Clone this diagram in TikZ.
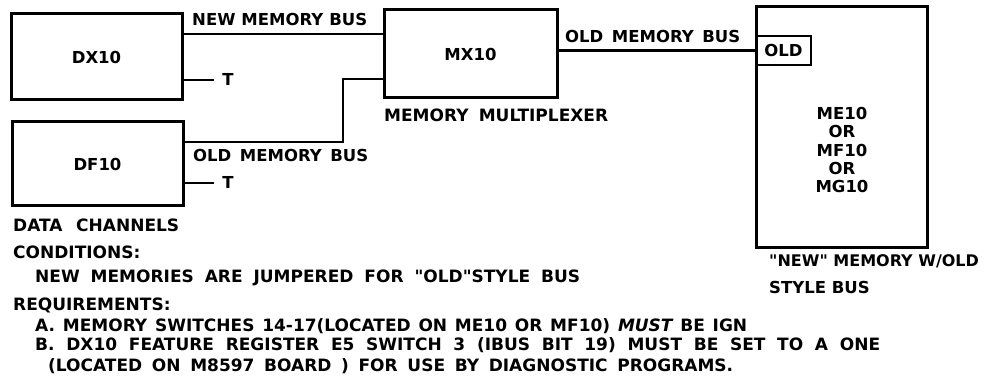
\documentclass[tikz,border=0pt]{standalone}
\usepackage{fontspec}
\setmainfont{DejaVu Sans}
\begin{document}
\begin{tikzpicture}[x=1pt,y=-1pt,
  lbl/.style={inner sep=0pt,font=\fontsize{16.5}{18}\selectfont\bfseries,text height=12pt,text depth=0pt},
  txt/.style={lbl,anchor=west},
  note/.style={txt,font=\fontsize{17}{18}\selectfont\bfseries},
  unit/.style={draw,line width=3pt,inner sep=0pt,font=\fontsize{16.5}{18}\selectfont\bfseries},
  bus/.style={line width=2.1pt}]
\useasboundingbox (0,0) rectangle (988,387);
% boxes
\node[unit,minimum width=171pt,minimum height=86pt] (dx) at (96.5,57) {DX10};
\node[unit,minimum width=171pt,minimum height=84pt] (df) at (97.5,164) {DF10};
\node[unit,minimum width=173pt,minimum height=88pt] (mx) at (470.5,54) {MX10};
\node[unit,minimum width=171pt,minimum height=241pt] (mem) at (841.5,127.5) {};
\node[draw,line width=2.2pt,inner sep=0pt,minimum width=55pt,minimum height=29pt,
  font=\fontsize{16.5}{18}\selectfont\bfseries] (old) at (783.5,50.5) {OLD};
\node[lbl,align=center,font=\fontsize{16.5}{18.2}\selectfont\bfseries,text height=,text depth=] (memtxt) at (842,150)
  {ME10\\OR\\MF10\\OR\\MG10};
% T terminators
\node[lbl] (t1) at (228,80) {T};
\node[lbl] (t2) at (228,183) {T};
\coordinate (nb) at (0,34);
\coordinate (ob1) at (0,142);
\coordinate (jog) at (343,79);
\draw[bus] (dx.east |- nb) -- (mx.west |- nb);
\draw[bus] (dx.east |- t1) -- ([xshift=-8pt]t1.west);
\draw[bus] (df.east |- t2) -- ([xshift=-8pt]t2.west);
\draw[bus] (df.east |- ob1) -| (jog) -- (mx.west |- jog);
\draw[bus] (mx.east |- old.west) -- (old.west);
% labels
\node[txt] (lnb) at (192,20) {\makebox[175pt][s]{NEW MEMORY BUS}};
\node[txt] (lob1) at (193,156) {\makebox[175pt][s]{OLD MEMORY BUS}};
\node[txt] (lob2) at (565,37) {\makebox[175pt][s]{OLD MEMORY BUS}};
\node[note] (lmx) at (384,116) {\makebox[224pt][s]{MEMORY MULTIPLEXER}};
\node[note] (ldc) at (13,226) {\makebox[166pt][s]{DATA CHANNELS}};
\node[txt,font=\fontsize{16}{18}\selectfont\bfseries] (lm1) at (769,261) {\textquotedbl NEW\textquotedbl\ MEMORY W/OLD};
\node[txt] (lm2) at (769,288) {STYLE BUS};
\node[note] (c0) at (13,253) {CONDITIONS:};
\node[note] (c1) at (35,277) {\makebox[545pt][s]{NEW MEMORIES ARE JUMPERED FOR \textquotedbl OLD\textquotedbl STYLE BUS}};
\node[note] (r0) at (13,305) {REQUIREMENTS:};
\node[note] (ra) at (35,326) {\makebox[712pt][s]{A. MEMORY SWITCHES 14-17(LOCATED ON ME10 OR MF10) {\itshape MUST} BE IGN}};
\node[note] (rb) at (35,345) {\makebox[845pt][s]{B. DX10 FEATURE REGISTER E5 SWITCH 3 (IBUS BIT 19) MUST BE SET TO A ONE}};
\node[note] (rc) at (48,365) {\makebox[685pt][s]{(LOCATED ON M8597 BOARD ) FOR USE BY DIAGNOSTIC PROGRAMS.}};
\end{tikzpicture}
\end{document}
